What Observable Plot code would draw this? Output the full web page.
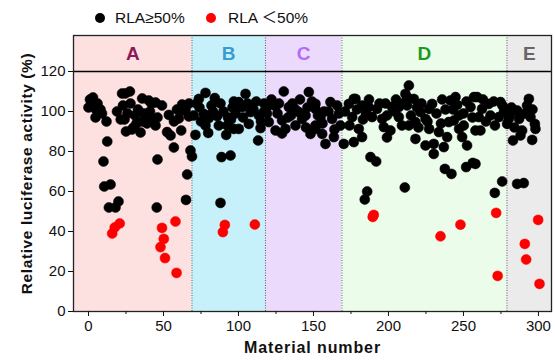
<!DOCTYPE html>
<html><head><meta charset="utf-8">
<script src="https://cdn.jsdelivr.net/npm/d3@7"></script>
<script src="https://cdn.jsdelivr.net/npm/@observablehq/plot@0.6"></script>
<style>
body{margin:0;background:#fff;font-family:"Liberation Sans",Arial,"Noto Sans CJK SC",sans-serif;}
#legend{position:relative;height:30px;width:555px;font-size:15.5px;color:#111;font-family:"Liberation Sans",Arial,"Noto Sans CJK SC",sans-serif;}
#legend .dot{position:absolute;width:10px;height:10px;border-radius:50%;top:13px;}
#legend .lab{position:absolute;top:9px;line-height:17px;}
#chart svg{display:block;overflow:visible;}
g[aria-label="y-axis label"] text{font-weight:bold;font-size:15.5px;letter-spacing:0.6px;fill:#111;}
g[aria-label="x-axis label"] text{font-weight:bold;font-size:16px;letter-spacing:0.9px;fill:#111;}
</style></head><body>
<div id="legend"></div>
<div id="chart"></div>
<script>
// ---- data ----
const regionNames = ["A","B","C","D","E"];
const regionStart = [-10, 69, 118, 169, 279];
const regionEnd   = [69, 118, 169, 279, 308.7];
const regionFill  = ["#fde0e0","#c6f1fb","#ecdafc","#ebfdea","#ebebeb"];
const regionInk   = ["#8b1a55","#3a9bd0","#b36bf5","#1c9a1c","#666666"];
const regionLabelY = 129;
const threshold = 120;
const legendLabels = ["RLA\u226550%","RLA \uFF1C50%"];
const yTicks = [0,20,40,60,80,100,120];
const xTicks = [0,50,100,150,200,250,300];
const xMinorTicks = [25,75,125,175,225,275];

const pointsA = [[1,106],[0,102],[3,107],[4.7,97],[5,101],[7,101],[8,101],[12,95],[12.5,85],[10,75],[10.5,62.5],[14.7,63.5],[13.6,52],[18,52],[20,55],[22.4,109],[24.5,109],[27.6,110],[23,103],[21.5,96],[26,99],[25,90],[29,91],[31,98],[32,94],[34.7,89.5],[35.8,106.5],[37,99],[38,97],[39,94],[40.2,105.5],[40,95.5],[42,104],[43.6,96],[44.7,104.5],[44.7,93],[46,76],[45.5,52],[53.6,98.3],[52.4,89.7],[54.7,88],[56.9,82],[60.2,96.5],[62.4,103.5],[64.7,101],[63.6,100.5],[61.8,90.5],[66.9,97.5],[68,80.5],[69,77.5],[65.8,68.5],[65,55.8],[2,104],[30,92],[6,104],[9,99],[19,100],[24,96],[28,104],[33,101],[36,95],[41,100],[46,97],[49,103],[57,95],[59,101],[67,104],[15.8,39],[17.5,42],[20.8,44],[49,41.8],[50.2,36.3],[48,32.2],[51,26.7],[58,45],[58.7,19.3]];
const pointsB = [[73.6,106.3],[78,109.3],[84.2,106.7],[96.9,105],[96,102],[70.2,98],[76.9,98.8],[80.2,96.7],[85.8,97.7],[78,93],[86.9,93],[92.4,93],[96.9,91.3],[71.3,88.3],[79.8,89.3],[91.8,88.3],[88.7,77.2],[94.7,78],[88,54.3],[100.2,104.7],[102.4,102.2],[104.7,108.8],[100.2,91.3],[106.9,93.8],[108,99.7],[111.8,105],[113.6,98],[114.7,91.7],[113.1,85.5],[117,100],[74,102],[82,103],[90,100],[93,97],[72,104],[75,95],[83,100],[88,104],[95,96],[98,99],[103,97],[106,104],[110,101],[115,95],[117,104],[90.9,43.3],[89.6,39.7],[110.9,43.5]];
const pointsC = [[120.2,103],[124.7,102.7],[130.2,110],[146.9,109.7],[133.6,102.2],[140.2,99.7],[144.7,98],[151.3,101.3],[120.2,94.7],[129.1,95.5],[124.7,90.5],[131.3,91.3],[138,93],[142.4,96.3],[148,88.8],[151.3,93],[151.3,103.8],[161.3,104.7],[165.8,103],[154.7,97.2],[162.4,96.3],[168,93],[151.3,91.3],[155.8,88.8],[158,83.8],[163.6,87.2],[126,99],[136,104],[157,100],[135,98],[146,102],[119,99],[122,106],[127,104],[133,97],[138,101],[141,106],[149,105],[153,98],[156,94],[160,100],[164,91],[167,99],[129,89],[145,92]];
const pointsD = [[170.2,83.8],[173.6,103.8],[176.9,106.3],[178,106.3],[182.4,103],[186.9,102.2],[192.4,101.3],[175.8,97.2],[189.1,97.2],[195.8,96.3],[202.4,102.2],[180.2,91.3],[182.4,87.2],[176.9,84.7],[196.9,92.2],[201.3,90.5],[188,77.2],[191.8,75],[185.8,60],[184.2,56],[213.6,113],[211.3,108.8],[212.4,107.2],[216.9,106.3],[206.9,102.2],[212.4,103],[221.3,99.7],[227.1,101.3],[229.1,103.8],[235.8,106],[241.3,105.5],[244.7,107.2],[245.8,103.3],[254.7,102.2],[257,107.2],[206.9,97.2],[213.6,93],[218,94.7],[224.7,96.3],[227.1,91.3],[209,93],[218,86.3],[224.7,83],[230.2,83.8],[233.6,89.7],[230.2,78.8],[236.9,82.2],[239.1,87.2],[240.2,94.7],[243.6,95.5],[247.1,91.3],[250.2,93],[249.1,87.2],[252.4,83],[258,90.5],[237.6,71.3],[242,68.8],[251.8,72.2],[256.2,74.3],[210.9,62],[259.1,107.2],[266.9,103.8],[270.2,105],[274.7,104.7],[262.4,101.3],[260.2,97.2],[273.6,97.2],[279.1,93.8],[261.3,90.5],[258,73.8],[275.8,65],[270.9,59.3],[198,104],[204,100],[185,99],[219,102],[232,99],[250,99],[265,95],[277,100],[171,100],[174,93],[179,101],[183,96],[187,106],[194,104],[199,98],[205,106],[209,104],[215,98],[222,104],[226,95],[235,94],[238,101],[243,101],[247,98],[252,105],[256,97],[263,106],[268,98],[271,93],[276,103],[220,92],[199,87],[190.2,48.3],[189.5,47.3],[234.7,37.6],[248,43.4],[271.8,49.3],[272.8,17.8]];
const pointsE = [[280.2,96.3],[285.8,100.5],[287.1,96.3],[293.6,106.3],[292.4,103],[294.7,97.2],[297.6,93.8],[298,91.3],[289.1,90.5],[288,88],[283,85.5],[295.8,85.8],[285.8,63.8],[290.2,64.2],[282,102],[284,92],[291,99],[296,101],[281,98],[299.8,45.8],[290.9,33.8],[291.8,26],[300.7,13.8]];

// ---- build ----
const regions = regionNames.map((n,i)=>({name:n,x1:regionStart[i],x2:regionEnd[i],fill:regionFill[i],ink:regionInk[i]}));
const points = [...pointsA,...pointsB,...pointsC,...pointsD,...pointsE].map(([x,y])=>({x,y,low:y<50}));
const ptColor = d => d.low ? "#ff0000" : "#000000";

// legend
const leg = d3.select("#legend");
[[95,"#000",115],[206,"#ff0000",228]].forEach(([dx,c,tx],i)=>{
  leg.append("div").attr("class","dot").style("left",dx+"px").style("background",c);
  leg.append("div").attr("class","lab").style("left",tx+"px").text(legendLabels[i]);
});

const chart = Plot.plot({
  width: 555,
  height: 332,
  marginLeft: 73,
  marginRight: 4,
  marginTop: 5,
  marginBottom: 51,
  style: {fontFamily: '"Liberation Sans", Arial, sans-serif', color: "#111", background: "transparent"},
  x: {domain: [-10, 308.7]},
  y: {domain: [0, 138]},
  marks: [
    Plot.rect(regions, {x1:"x1", x2:"x2", y1:0, y2:138, fill:d=>d.fill}),
    Plot.ruleX(regionStart.slice(1), {stroke:"#555", strokeWidth:0.9, strokeDasharray:"1,1.5"}),
    Plot.ruleY([threshold], {stroke:"#000", strokeWidth:1.3}),
    Plot.text(regions, {x:d=>(d.x1+d.x2)/2, y:regionLabelY, text:"name", fill:d=>d.ink, fontSize:19, fontWeight:"bold"}),
    Plot.dot(points, {x:"x", y:"y", r:5, fill:ptColor, stroke:ptColor, strokeWidth:0.5}),
    Plot.frame({stroke:"#222", strokeWidth:1.3}),
    Plot.axisY({ticks: yTicks, tickSize:5, tickPadding:3, fontSize:15, label:"Relative luciferase activity (%)", labelAnchor:"center", labelOffset:53, labelArrow:"none"}),
    Plot.axisX({ticks: xTicks, tickSize:5, tickPadding:4, fontSize:15, label:"Material number", labelAnchor:"center", labelOffset:41, labelArrow:"none"}),
    Plot.axisX({ticks: xMinorTicks, tickSize:3, text:null, label:null})
  ]
});
document.getElementById("chart").appendChild(chart);
</script>
</body></html>
